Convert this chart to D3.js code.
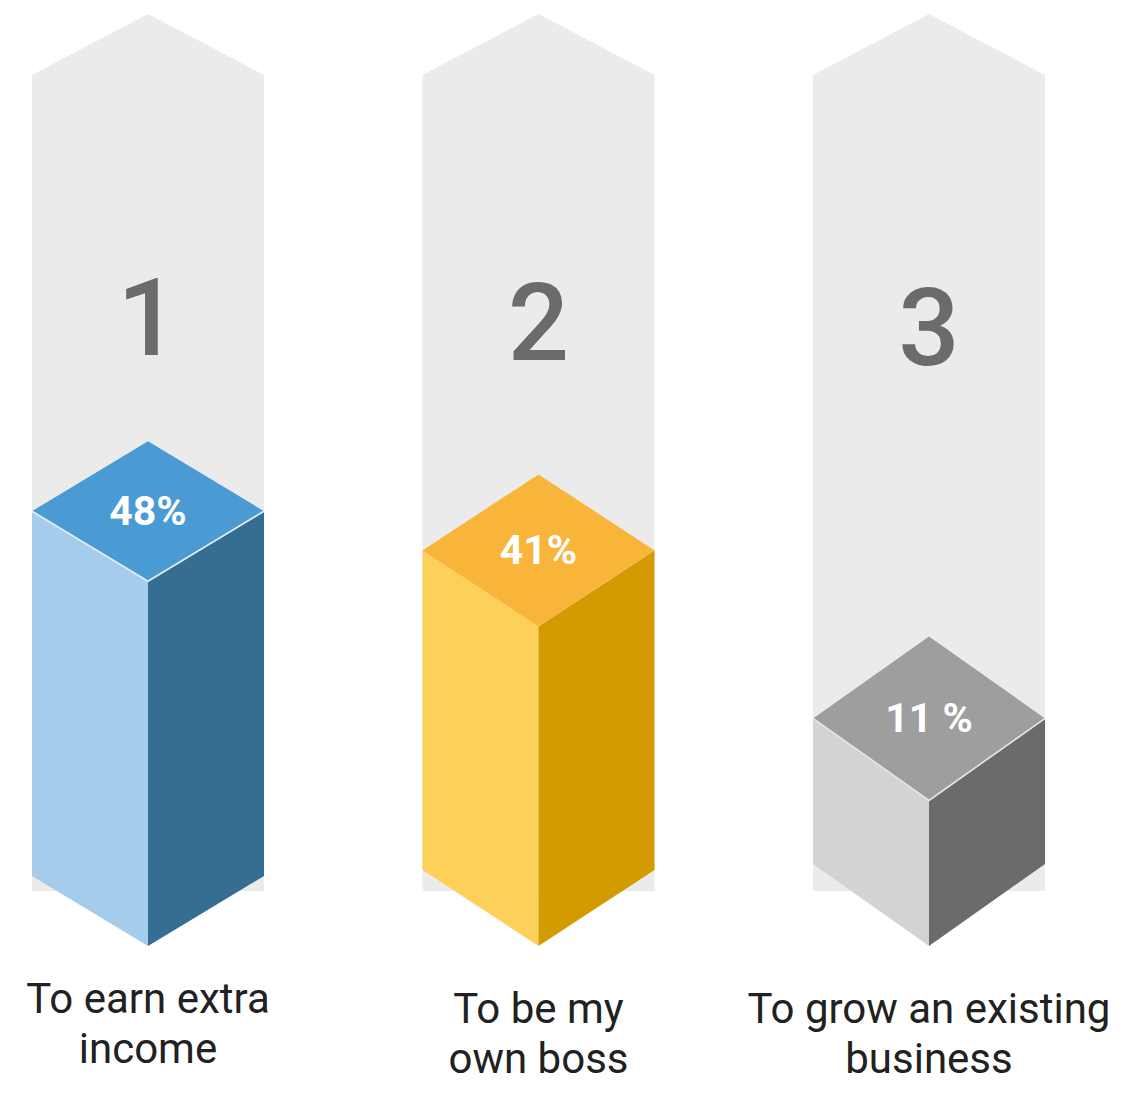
<!DOCTYPE html>
<html>
<head>
<meta charset="utf-8">
<script src="https://cdn.jsdelivr.net/npm/d3@7/dist/d3.min.js"></script>
<style>
  html, body { margin: 0; padding: 0; background: #ffffff; }
  svg { display: block; }
</style>
</head>
<body>
<svg id="chart" width="1127" height="1096"></svg>
<script>
// Reasons for starting a business, ranked
const categories = ["To earn extra income", "To be my own boss", "To grow an existing business"];
const labelLines = [["To earn extra", "income"], ["To be my", "own boss"], ["To grow an existing", "business"]];
const ranks = ["1", "2", "3"];
const shares = [48, 41, 11];
const shareLabels = ["48%", "41%", "11 %"];

// Face colours for each prism: top, left, right
const topColors = ["#4a9bd4", "#f9b43a", "#9e9e9e"];
const leftColors = ["#a6cceb", "#fdd05a", "#d3d3d3"];
const rightColors = ["#356d93", "#d39b00", "#6b6b6b"];
const edgeColors = ["#e4eef7", null, "#e6e6e6"];

const svg = d3.select("#chart");

const x = d3.scalePoint().domain(categories).range([148, 929]);
const halfW = 116;

// Vertical position of the prism's top face (at its side corners)
const y = d3.scaleLinear().domain([0, 50]).range([780, 500]);

const baseY = 946;          // lowest vertex of every prism
const columnTop = 14;        // apex of the grey column
const columnShoulder = 75;
const columnBottom = 891;

const line = d3.line();

const g = svg.selectAll("g.col")
  .data(categories)
  .join("g")
  .attr("class", "col");

// Grey arrow-shaped column behind each prism
g.append("path")
  .attr("fill", "#ebebeb")
  .attr("d", d => {
    const cx = x(d);
    return line([
      [cx, columnTop], [cx + halfW, columnShoulder], [cx + halfW, columnBottom],
      [cx - halfW, columnBottom], [cx - halfW, columnShoulder]
    ]) + "Z";
  });

// Rank number
g.append("text")
  .attr("x", d => x(d))
  .attr("y", (d, i) => 355 + 5 * i)
  .attr("text-anchor", "middle")
  .attr("font-family", "Roboto, sans-serif")
  .attr("font-weight", 500)
  .attr("font-size", 108)
  .attr("fill", "#6b6b6b")
  .text((d, i) => ranks[i]);

// Prism geometry
function geom(d, i) {
  const cx = x(d);
  const dy = 70 + 6 * i;
  const s = y(shares[i]);
  return { cx, dy, s };
}

g.append("path")
  .attr("fill", (d, i) => leftColors[i])
  .attr("d", (d, i) => {
    const { cx, dy, s } = geom(d, i);
    return line([[cx - halfW, s], [cx, s + dy], [cx, baseY], [cx - halfW, baseY - dy]]) + "Z";
  });

g.append("path")
  .attr("fill", (d, i) => rightColors[i])
  .attr("d", (d, i) => {
    const { cx, dy, s } = geom(d, i);
    return line([[cx + halfW, s], [cx, s + dy], [cx, baseY], [cx + halfW, baseY - dy]]) + "Z";
  });

g.append("path")
  .attr("fill", (d, i) => topColors[i])
  .attr("d", (d, i) => {
    const { cx, dy, s } = geom(d, i);
    return line([[cx, s - dy], [cx + halfW, s], [cx, s + dy], [cx - halfW, s]]) + "Z";
  });

// Light edge where the top face meets the sides
g.filter((d, i) => edgeColors[i])
  .append("path")
  .attr("fill", "none")
  .attr("stroke", d => edgeColors[categories.indexOf(d)])
  .attr("stroke-width", 1.6)
  .attr("d", d => {
    const i = categories.indexOf(d);
    const { cx, dy, s } = geom(d, i);
    return line([[cx - halfW, s], [cx, s + dy], [cx + halfW, s]]);
  });

// Share label on the top face
g.append("text")
  .attr("x", d => x(d))
  .attr("y", (d, i) => geom(d, i).s + 14)
  .attr("text-anchor", "middle")
  .attr("font-family", "Roboto, sans-serif")
  .attr("font-weight", 700)
  .attr("font-size", 41)
  .attr("fill", "#ffffff")
  .text((d, i) => shareLabels[i]);

// Category label below each column
g.append("text")
  .attr("text-anchor", "middle")
  .attr("font-family", "Roboto, sans-serif")
  .attr("font-size", 42)
  .attr("fill", "#212121")
  .each(function (d, i) {
    const t = d3.select(this);
    const first = i === 0 ? 1013 : 1023;
    labelLines[i].forEach((ln, k) => {
      t.append("tspan")
        .attr("x", x(d))
        .attr("y", first + k * 50)
        .text(ln);
    });
  });
</script>
</body>
</html>
